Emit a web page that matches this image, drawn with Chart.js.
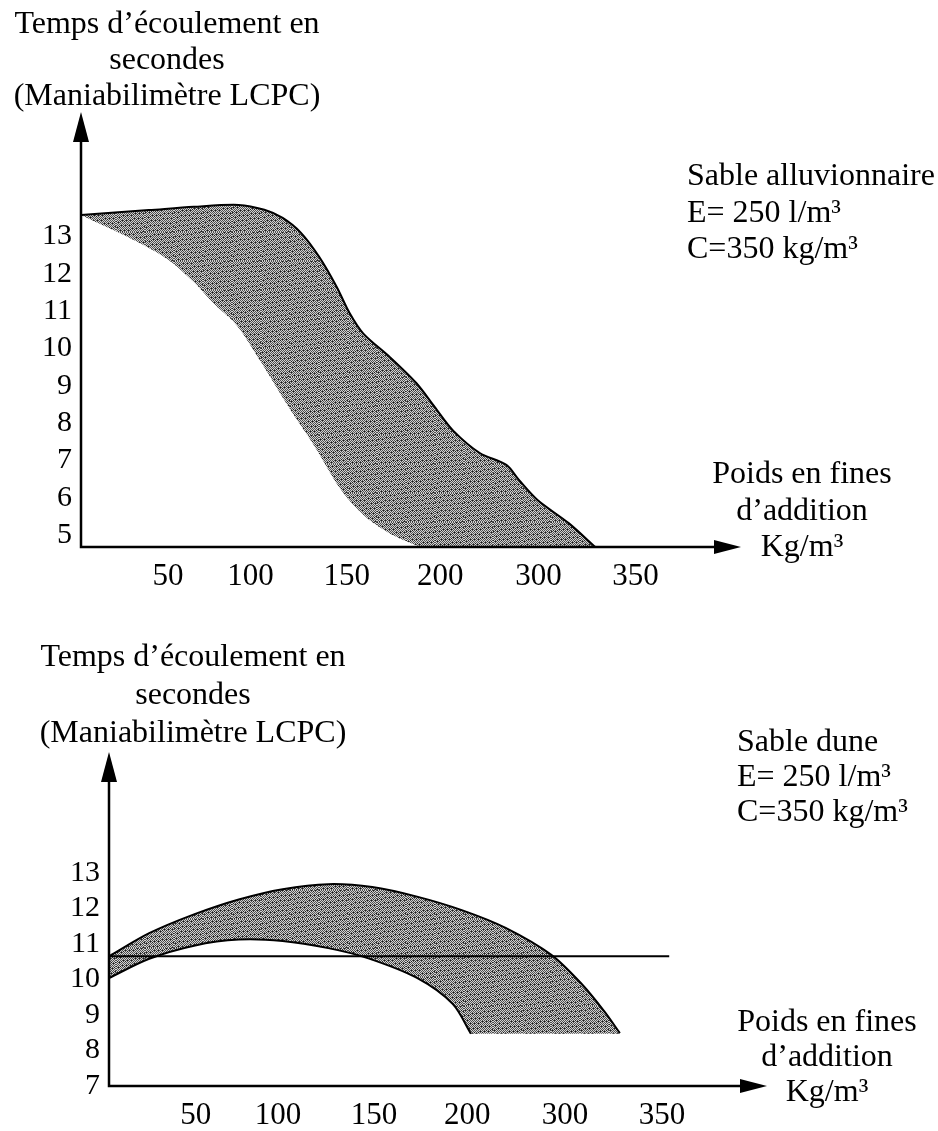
<!DOCTYPE html>
<html lang="fr">
<head>
<meta charset="utf-8">
<title>Temps d’écoulement en fonction des fines d’addition</title>
<script src="https://cdn.jsdelivr.net/npm/chart.js@4.4.1/dist/chart.umd.min.js"></script>
<style>
  html, body { margin: 0; background: #fff; }
  #wrap { position: relative; width: 938px; height: 1131px; }
  canvas { position: absolute; left: 0; }
  #alluv { top: 0; }
  #dune { top: 600px; }
</style>
</head>
<body>
<div id="wrap">
  <canvas id="alluv" width="938" height="600"></canvas>
  <canvas id="dune" width="938" height="531"></canvas>
</div>
<script>
// horizontal axis: one unit = one printed graduation step
const xTickLabels = ['50', '100', '150', '200', '300', '350'];
const xTickAt = [0.95, 1.85, 2.9, 3.92, 4.99, 6.05];

// Sable alluvionnaire
const alluvTicks = [5, 6, 7, 8, 9, 10, 11, 12, 13];
const alluvUpperX = [0, 0.74, 1.23, 1.72, 2.0, 2.2, 2.4, 2.6, 2.79, 2.93, 3.08, 3.37, 3.66, 3.86, 4.06, 4.35, 4.64, 4.78, 4.98, 5.32, 5.61];
const alluvUpperY = [13.58, 13.71, 13.8, 13.85, 13.72, 13.5, 13.1, 12.45, 11.65, 10.95, 10.4, 9.77, 9.07, 8.43, 7.8, 7.2, 6.88, 6.47, 5.94, 5.32, 4.68];
const alluvLowerX = [0, 0.5, 0.94, 1.23, 1.45, 1.7, 1.96, 2.26, 2.55, 2.84, 3.1, 3.4, 3.7];
const alluvLowerY = [13.58, 13.0, 12.4, 11.78, 11.2, 10.62, 9.65, 8.45, 7.37, 6.2, 5.5, 5.0, 4.68];

// Sable dune
const duneTicks = [7, 8, 9, 10, 11, 12, 13];
const duneUpperX = [0, 0.44, 0.93, 1.42, 1.9, 2.4, 2.88, 3.37, 3.86, 4.34, 4.84, 5.18, 5.42, 5.59];
const duneUpperY = [10.65, 11.3, 11.83, 12.25, 12.54, 12.68, 12.6, 12.33, 11.95, 11.45, 10.69, 9.85, 9.1, 8.49];
const duneLowerX = [0, 0.44, 0.93, 1.42, 1.9, 2.4, 2.83, 3.37, 3.76, 3.96];
const duneLowerY = [10.04, 10.58, 10.95, 11.12, 11.08, 10.88, 10.6, 10.04, 9.31, 8.47];
const duneFloor = 8.47;
const duneRefX = [0, 6.13];
const duneRefY = [10.65, 10.65];

const pts = (xs, ys) => xs.map((x, i) => ({ x: x, y: ys[i] }));

// grey stippled texture used for the shaded bands
function stipple() {
  const size = 29;
  const c = document.createElement('canvas');
  c.width = c.height = size;
  const g = c.getContext('2d');
  const img = g.createImageData(size, size);
  for (let y = 0; y < size; y++) {
    for (let x = 0; x < size; x++) {
      let v = (x + y) % 2 === 0 ? 80 : 210;
      if ((x * 7 + y * 13) % 29 < 3) v = 30;
      const k = (y * size + x) * 4;
      img.data[k] = img.data[k + 1] = img.data[k + 2] = v;
      img.data[k + 3] = 255;
    }
  }
  g.putImageData(img, 0, 0);
  return g.createPattern(c, 'repeat');
}

const SERIF = '"Liberation Serif", "Times New Roman", serif';

// axes with arrowheads + free text blocks
const sketch = {
  id: 'sketch',
  afterDatasetsDraw(chart) {
    const { ctx, chartArea: a } = chart;
    ctx.save();
    ctx.strokeStyle = '#000';
    ctx.fillStyle = '#000';
    ctx.lineWidth = 2.5;
    ctx.beginPath();
    ctx.moveTo(a.left, a.top + 20);
    ctx.lineTo(a.left, a.bottom);
    ctx.lineTo(a.right - 20, a.bottom);
    ctx.stroke();
    ctx.beginPath();
    ctx.moveTo(a.left, a.top);
    ctx.lineTo(a.left - 8, a.top + 30);
    ctx.lineTo(a.left + 8, a.top + 30);
    ctx.closePath();
    ctx.fill();
    ctx.beginPath();
    ctx.moveTo(a.right, a.bottom);
    ctx.lineTo(a.right - 27, a.bottom - 7);
    ctx.lineTo(a.right - 27, a.bottom + 7);
    ctx.closePath();
    ctx.fill();
    ctx.restore();
  },
  afterDraw(chart, args, opts) {
    const ctx = chart.ctx;
    ctx.save();
    ctx.fillStyle = '#000';
    ctx.font = '32px ' + SERIF;
    ctx.textBaseline = 'middle';
    (opts.notes || []).forEach(n => {
      ctx.textAlign = n.align;
      n.lines.forEach((t, i) => ctx.fillText(t, n.x, n.y + i * n.lh));
    });
    ctx.restore();
  }
};

function makeChart(id, cfg) {
  const pattern = stipple();
  const datasets = cfg.series(pattern).map(d => Object.assign({
    pointRadius: 0,
    borderColor: '#000',
    borderWidth: 2,
    tension: 0.3,
    fill: false
  }, d));
  return new Chart(document.getElementById(id), {
    type: 'line',
    data: { datasets: datasets },
    options: {
      responsive: false,
      animation: false,
      devicePixelRatio: 1,
      layout: { padding: cfg.padding },
      plugins: {
        legend: { display: false },
        tooltip: { enabled: false },
        sketch: { notes: cfg.notes }
      },
      scales: {
        x: {
          type: 'linear',
          min: 0,
          max: 7.2,
          grid: { display: false, drawTicks: false },
          border: { display: false },
          afterBuildTicks: s => { s.ticks = xTickAt.map(v => ({ value: v })); },
          afterFit: s => { s.height = cfg.xHeight; },
          ticks: {
            padding: 11,
            maxRotation: 0,
            autoSkip: false,
            color: '#000',
            font: { family: SERIF, size: 31 },
            callback: (v, i) => xTickLabels[i]
          }
        },
        y: {
          type: 'linear',
          min: cfg.yMin,
          max: cfg.yMax,
          grid: { display: false, drawTicks: false },
          border: { display: false },
          afterBuildTicks: s => { s.ticks = cfg.yTicks.map(v => ({ value: v })); },
          afterFit: s => { s.width = cfg.yWidth; },
          ticks: {
            padding: 9,
            autoSkip: false,
            color: '#000',
            font: { family: SERIF, size: 30 },
            callback: v => String(v)
          }
        }
      }
    },
    plugins: [sketch]
  });
}

makeChart('alluv', {
  yMin: 4.68,
  yMax: 16.34,
  yTicks: alluvTicks,
  yWidth: 81,
  xHeight: 53,
  padding: { top: 112, right: 197, left: 0, bottom: 0 },
  series: p => [
    { data: pts(alluvUpperX, alluvUpperY) },
    { data: pts(alluvLowerX, alluvLowerY), borderColor: 'rgba(0,0,0,0)', borderWidth: 0,
      fill: { target: 'start', above: '#fff', below: '#fff' } },
    { data: pts(alluvUpperX, alluvUpperY), borderColor: 'rgba(0,0,0,0)', borderWidth: 0,
      fill: { target: 'start', above: p, below: p } }
  ],
  notes: [
    { lines: ['Temps d’écoulement en', 'secondes', '(Maniabilimètre LCPC)'], x: 167, y: 25, lh: 36, align: 'center' },
    { lines: ['Sable alluvionnaire', 'E= 250 l/m³', 'C=350 kg/m³'], x: 687, y: 177, lh: 36.5, align: 'left' },
    { lines: ['Poids en fines', 'd’addition', 'Kg/m³'], x: 802, y: 475, lh: 36.5, align: 'center' }
  ]
});

makeChart('dune', {
  yMin: 7,
  yMax: 16.4,
  yTicks: duneTicks,
  yWidth: 109,
  xHeight: 45,
  padding: { top: 152, right: 171, left: 0, bottom: 0 },
  series: p => [
    { data: pts(duneRefX, duneRefY), tension: 0 },
    { data: pts(duneUpperX, duneUpperY) },
    { data: pts(duneLowerX, duneLowerY),
      fill: { target: { value: duneFloor - 0.1 }, above: '#fff', below: '#fff' } },
    { data: pts(duneUpperX, duneUpperY), borderColor: 'rgba(0,0,0,0)', borderWidth: 0,
      fill: { target: { value: duneFloor }, above: p, below: p } }
  ],
  notes: [
    { lines: ['Temps d’écoulement en', 'secondes', '(Maniabilimètre LCPC)'], x: 193, y: 58, lh: 38, align: 'center' },
    { lines: ['Sable dune', 'E= 250 l/m³', 'C=350 kg/m³'], x: 737, y: 143, lh: 35, align: 'left' },
    { lines: ['Poids en fines', 'd’addition', 'Kg/m³'], x: 827, y: 423, lh: 35, align: 'center' }
  ]
});
</script>
</body>
</html>
